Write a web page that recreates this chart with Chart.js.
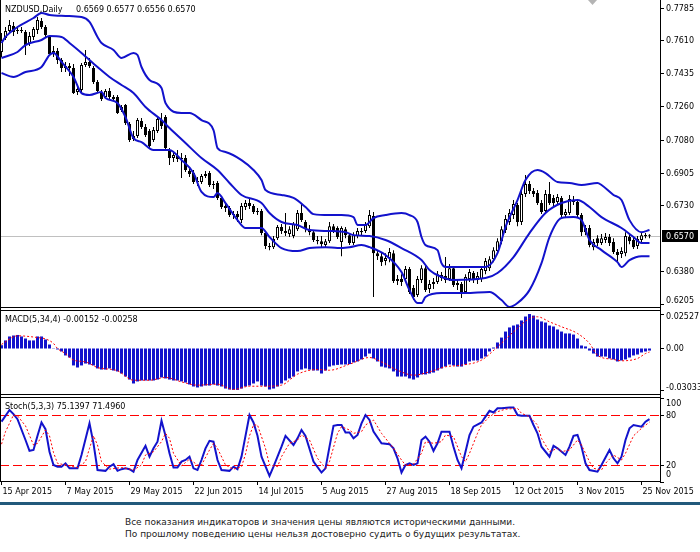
<!DOCTYPE html>
<html>
<head>
<meta charset="utf-8">
<script src="https://cdn.jsdelivr.net/npm/chart.js@4.4.1/dist/chart.umd.min.js"></script>
<style>
  body { margin: 0; background: #fff; }
  #wrap { position: relative; width: 700px; height: 552px; background: #fff; overflow: hidden; }
  canvas { position: absolute; left: 0; }
  #priceCanvas { top: 0; }
  #macdCanvas { top: 308px; }
  #stochCanvas { top: 395px; }
  #bottomLine { position: absolute; left: 0; top: 502px; width: 700px; height: 3px; background: #22597b; }
  #note { position: absolute; left: 125px; top: 516px; font-family: "DejaVu Sans", sans-serif; font-size: 9px; line-height: 12px; color: #222; white-space: nowrap; }
</style>
</head>
<body>
<div id="wrap">
  <canvas id="priceCanvas" width="700" height="308"></canvas>
  <canvas id="macdCanvas" width="700" height="87"></canvas>
  <canvas id="stochCanvas" width="700" height="107"></canvas>
  <div id="bottomLine"></div>
  <div id="note">Все показания индикаторов и значения цены являются историческими данными.<br>По прошлому поведению цены нельзя достоверно судить о будущих результатах.</div>
</div>
<script>
// x axis dates, one label every 16 daily bars
const tickBars = [0, 16, 32, 48, 64, 80, 96, 112, 128, 144, 160];
const tickDates = ['15 Apr 2015', '7 May 2015', '29 May 2015', '22 Jun 2015', '14 Jul 2015', '5 Aug 2015',
    '27 Aug 2015', '18 Sep 2015', '12 Oct 2015', '3 Nov 2015', '25 Nov 2015'];

// NZDUSD daily candles
const opens = [
    0.7548, 0.7622, 0.7660, 0.7686, 0.7660, 0.7665, 0.7654, 0.7590, 0.7628, 0.7665,
    0.7713, 0.7681, 0.7633, 0.7537, 0.7553, 0.7505, 0.7463, 0.7473, 0.7463, 0.7335,
    0.7345, 0.7479, 0.7495, 0.7463, 0.7388, 0.7335, 0.7308, 0.7340, 0.7308, 0.7308,
    0.7239, 0.7265, 0.7164, 0.7084, 0.7100, 0.7180, 0.7148, 0.7127, 0.7079, 0.7127,
    0.7185, 0.7201, 0.7020, 0.6983, 0.6994, 0.6978, 0.6983, 0.6914, 0.6903, 0.6855,
    0.6855, 0.6887, 0.6903, 0.6839, 0.6850, 0.6770, 0.6727, 0.6716, 0.6679, 0.6684,
    0.6652, 0.6722, 0.6743, 0.6727, 0.6695, 0.6700, 0.6583, 0.6514, 0.6508, 0.6556,
    0.6615, 0.6594, 0.6578, 0.6567, 0.6604, 0.6690, 0.6642, 0.6604, 0.6588, 0.6546,
    0.6540, 0.6519, 0.6540, 0.6620, 0.6610, 0.6535, 0.6604, 0.6572, 0.6530, 0.6567,
    0.6594, 0.6594, 0.6620, 0.6674, 0.6476, 0.6460, 0.6434, 0.6450, 0.6476, 0.6327,
    0.6338, 0.6338, 0.6391, 0.6290, 0.6253, 0.6333, 0.6396, 0.6285, 0.6311, 0.6322,
    0.6359, 0.6354, 0.6338, 0.6396, 0.6306, 0.6311, 0.6269, 0.6338, 0.6370, 0.6333,
    0.6338, 0.6381, 0.6396, 0.6444, 0.6487, 0.6540, 0.6599, 0.6642, 0.6679, 0.6732,
    0.6642, 0.6791, 0.6844, 0.6807, 0.6796, 0.6743, 0.6700, 0.6791, 0.6770, 0.6748,
    0.6770, 0.6679, 0.6690, 0.6759, 0.6748, 0.6679, 0.6588, 0.6610, 0.6508, 0.6556,
    0.6530, 0.6546, 0.6562, 0.6535, 0.6482, 0.6471, 0.6476, 0.6562, 0.6546, 0.6514,
    0.6546, 0.6572, 0.6569
];
const highs = [
    0.7649, 0.7681, 0.7718, 0.7708, 0.7686, 0.7681, 0.7665, 0.7654, 0.7681, 0.7734,
    0.7729, 0.7692, 0.7638, 0.7580, 0.7569, 0.7516, 0.7495, 0.7489, 0.7484, 0.7367,
    0.7489, 0.7559, 0.7516, 0.7473, 0.7399, 0.7345, 0.7351, 0.7356, 0.7319, 0.7319,
    0.7265, 0.7271, 0.7175, 0.7127, 0.7196, 0.7196, 0.7164, 0.7137, 0.7148, 0.7201,
    0.7223, 0.7212, 0.7036, 0.7015, 0.7026, 0.7010, 0.6999, 0.6935, 0.6919, 0.6882,
    0.6898, 0.6914, 0.6914, 0.6860, 0.6860, 0.6780, 0.6743, 0.6727, 0.6700, 0.6700,
    0.6743, 0.6759, 0.6770, 0.6738, 0.6716, 0.6711, 0.6594, 0.6530, 0.6567, 0.6626,
    0.6631, 0.6690, 0.6620, 0.6642, 0.6706, 0.6743, 0.6652, 0.6626, 0.6599, 0.6567,
    0.6567, 0.6551, 0.6642, 0.6631, 0.6620, 0.6620, 0.6615, 0.6583, 0.6588, 0.6610,
    0.6610, 0.6642, 0.6706, 0.6695, 0.6492, 0.6482, 0.6476, 0.6503, 0.6492, 0.6359,
    0.6364, 0.6407, 0.6402, 0.6306, 0.6354, 0.6412, 0.6407, 0.6333, 0.6343, 0.6381,
    0.6375, 0.6455, 0.6418, 0.6407, 0.6333, 0.6322, 0.6364, 0.6391, 0.6381, 0.6375,
    0.6407, 0.6450, 0.6460, 0.6508, 0.6556, 0.6620, 0.6679, 0.6711, 0.6759, 0.6743,
    0.6812, 0.6892, 0.6860, 0.6823, 0.6812, 0.6759, 0.6812, 0.6855, 0.6786, 0.6791,
    0.6780, 0.6711, 0.6786, 0.6780, 0.6764, 0.6690, 0.6626, 0.6626, 0.6551, 0.6572,
    0.6578, 0.6583, 0.6578, 0.6556, 0.6498, 0.6508, 0.6588, 0.6578, 0.6567, 0.6567,
    0.6588, 0.6583, 0.6577
];
const lows = [
    0.7521, 0.7612, 0.7649, 0.7633, 0.7644, 0.7649, 0.7532, 0.7580, 0.7612, 0.7644,
    0.7670, 0.7622, 0.7527, 0.7521, 0.7484, 0.7441, 0.7441, 0.7420, 0.7324, 0.7319,
    0.7335, 0.7468, 0.7463, 0.7377, 0.7329, 0.7287, 0.7297, 0.7297, 0.7287, 0.7217,
    0.7228, 0.7159, 0.7068, 0.7073, 0.7089, 0.7137, 0.7095, 0.7036, 0.7068, 0.7116,
    0.7137, 0.7026, 0.6946, 0.6962, 0.6962, 0.6876, 0.6908, 0.6882, 0.6844, 0.6834,
    0.6844, 0.6876, 0.6828, 0.6818, 0.6759, 0.6711, 0.6695, 0.6668, 0.6658, 0.6642,
    0.6636, 0.6706, 0.6711, 0.6684, 0.6679, 0.6572, 0.6498, 0.6492, 0.6498, 0.6546,
    0.6578, 0.6567, 0.6562, 0.6556, 0.6594, 0.6642, 0.6588, 0.6572, 0.6535, 0.6524,
    0.6508, 0.6503, 0.6530, 0.6583, 0.6551, 0.6460, 0.6556, 0.6519, 0.6519, 0.6556,
    0.6572, 0.6583, 0.6610, 0.6242, 0.6439, 0.6407, 0.6412, 0.6428, 0.6317, 0.6306,
    0.6301, 0.6327, 0.6258, 0.6226, 0.6242, 0.6317, 0.6269, 0.6263, 0.6285, 0.6311,
    0.6327, 0.6317, 0.6327, 0.6295, 0.6279, 0.6237, 0.6258, 0.6322, 0.6317, 0.6311,
    0.6322, 0.6364, 0.6381, 0.6428, 0.6471, 0.6524, 0.6583, 0.6626, 0.6658, 0.6620,
    0.6626, 0.6775, 0.6791, 0.6775, 0.6732, 0.6684, 0.6690, 0.6732, 0.6727, 0.6732,
    0.6668, 0.6663, 0.6679, 0.6732, 0.6668, 0.6567, 0.6572, 0.6508, 0.6492, 0.6514,
    0.6519, 0.6530, 0.6514, 0.6471, 0.6423, 0.6450, 0.6460, 0.6524, 0.6498, 0.6498,
    0.6535, 0.6556, 0.6556
];
const closes = [
    0.7612, 0.7660, 0.7692, 0.7654, 0.7665, 0.7660, 0.7585, 0.7633, 0.7670, 0.7718,
    0.7681, 0.7638, 0.7537, 0.7553, 0.7505, 0.7463, 0.7473, 0.7463, 0.7329, 0.7351,
    0.7479, 0.7495, 0.7473, 0.7388, 0.7340, 0.7297, 0.7340, 0.7308, 0.7297, 0.7223,
    0.7255, 0.7169, 0.7079, 0.7100, 0.7185, 0.7148, 0.7105, 0.7047, 0.7132, 0.7191,
    0.7153, 0.7036, 0.6983, 0.6999, 0.6978, 0.6983, 0.6919, 0.6898, 0.6855, 0.6860,
    0.6887, 0.6898, 0.6839, 0.6844, 0.6770, 0.6722, 0.6716, 0.6679, 0.6684, 0.6668,
    0.6727, 0.6743, 0.6727, 0.6695, 0.6700, 0.6583, 0.6514, 0.6508, 0.6551, 0.6615,
    0.6594, 0.6583, 0.6604, 0.6631, 0.6690, 0.6652, 0.6604, 0.6588, 0.6546, 0.6540,
    0.6524, 0.6540, 0.6620, 0.6594, 0.6562, 0.6610, 0.6572, 0.6530, 0.6572, 0.6594,
    0.6588, 0.6626, 0.6679, 0.6476, 0.6460, 0.6428, 0.6450, 0.6482, 0.6327, 0.6338,
    0.6322, 0.6391, 0.6269, 0.6242, 0.6338, 0.6396, 0.6279, 0.6311, 0.6322, 0.6364,
    0.6343, 0.6333, 0.6396, 0.6306, 0.6317, 0.6263, 0.6349, 0.6375, 0.6333, 0.6354,
    0.6391, 0.6434, 0.6444, 0.6492, 0.6540, 0.6604, 0.6658, 0.6690, 0.6738, 0.6642,
    0.6791, 0.6844, 0.6807, 0.6791, 0.6743, 0.6695, 0.6791, 0.6743, 0.6743, 0.6775,
    0.6679, 0.6695, 0.6764, 0.6748, 0.6679, 0.6588, 0.6610, 0.6519, 0.6535, 0.6530,
    0.6556, 0.6562, 0.6530, 0.6482, 0.6466, 0.6487, 0.6567, 0.6540, 0.6508, 0.6551,
    0.6572, 0.6567, 0.6570
];

// Bollinger bands at the bars where they bend
const upperIdx = [0, 1, 4, 8, 10, 12, 16, 20, 22, 24, 25, 28, 30, 33, 34, 35, 37, 40, 41, 45,
    47, 50, 53, 54, 56, 60, 63, 65, 66, 70, 73, 76, 78, 82, 85, 88, 89, 91, 93, 96,
    100, 102, 104, 105, 106, 109, 110, 111, 115, 121, 124, 126, 129, 131, 134, 136, 139, 142, 145, 149,
    150, 153, 155, 157, 160, 162];
const upperVal = [0.7596, 0.7628, 0.7681, 0.7729, 0.7756, 0.7745, 0.7740, 0.7734, 0.7708, 0.7628,
    0.7596, 0.7559, 0.7516, 0.7543, 0.7532, 0.7468, 0.7399, 0.7356, 0.7276, 0.7223,
    0.7223, 0.7185, 0.7132, 0.7036, 0.7015, 0.6972, 0.6919, 0.6866, 0.6812, 0.6786,
    0.6770, 0.6722, 0.6684, 0.6679, 0.6679, 0.6668, 0.6626, 0.6626, 0.6663, 0.6679,
    0.6690, 0.6679, 0.6642, 0.6562, 0.6519, 0.6492, 0.6423, 0.6402, 0.6402, 0.6402,
    0.6476, 0.6615, 0.6759, 0.6866, 0.6919, 0.6903, 0.6855, 0.6850, 0.6839, 0.6850,
    0.6839, 0.6786, 0.6759, 0.6652, 0.6588, 0.6599];
const middleIdx = [0, 4, 6, 10, 12, 15, 17, 20, 24, 27, 30, 33, 36, 40, 42, 46, 50, 54, 57, 60,
    65, 67, 70, 74, 77, 82, 86, 88, 92, 96, 100, 105, 107, 110, 113, 121, 124, 128, 132, 136,
    140, 144, 147, 150, 155, 158, 160, 162];
const middleVal = [0.7516, 0.7548, 0.7585, 0.7612, 0.7633, 0.7628, 0.7596, 0.7543, 0.7468, 0.7415,
    0.7372, 0.7329, 0.7255, 0.7185, 0.7143, 0.7063, 0.6983, 0.6919, 0.6850, 0.6786,
    0.6743, 0.6690, 0.6642, 0.6626, 0.6599, 0.6594, 0.6588, 0.6572, 0.6567, 0.6546,
    0.6503, 0.6439, 0.6386, 0.6349, 0.6333, 0.6343, 0.6370, 0.6455, 0.6583, 0.6690,
    0.6743, 0.6759, 0.6722, 0.6668, 0.6610, 0.6562, 0.6530, 0.6530];
const lowerIdx = [0, 3, 6, 10, 12, 13, 15, 18, 20, 22, 25, 26, 29, 31, 33, 35, 38, 42, 45, 48,
    50, 53, 54, 56, 59, 61, 65, 67, 70, 74, 77, 81, 84, 87, 90, 92, 96, 100, 102, 104,
    105, 106, 110, 116, 122, 125, 127, 129, 132, 135, 137, 140, 143, 145, 147, 150, 154, 155, 157, 160,
    162];
const lowerVal = [0.7436, 0.7415, 0.7441, 0.7468, 0.7532, 0.7543, 0.7495, 0.7415, 0.7329, 0.7319,
    0.7335, 0.7303, 0.7276, 0.7201, 0.7089, 0.7068, 0.7026, 0.7026, 0.6972, 0.6903,
    0.6802, 0.6775, 0.6796, 0.6743, 0.6652, 0.6610, 0.6610, 0.6562, 0.6503, 0.6487,
    0.6503, 0.6508, 0.6503, 0.6508, 0.6519, 0.6508, 0.6466, 0.6375, 0.6279, 0.6210,
    0.6210, 0.6242, 0.6263, 0.6263, 0.6269, 0.6226, 0.6189, 0.6210, 0.6279, 0.6423,
    0.6562, 0.6663, 0.6668, 0.6652, 0.6546, 0.6492, 0.6428, 0.6402, 0.6439, 0.6460,
    0.6460];

// MACD(5,34,4) histogram, one value per bar
const macdHist = [
    0.0024, 0.0059, 0.0088, 0.0095, 0.0099, 0.0088, 0.0073, 0.0059, 0.0059, 0.0088,
    0.0088, 0.0066, 0.0029, 0.0002, -0.0007, -0.0022, -0.0051, -0.0066, -0.0124, -0.0139,
    -0.0124, -0.0110, -0.0117, -0.0124, -0.0146, -0.0154, -0.0154, -0.0146, -0.0161, -0.0168,
    -0.0183, -0.0205, -0.0227, -0.0256, -0.0241, -0.0234, -0.0234, -0.0234, -0.0234, -0.0227,
    -0.0212, -0.0219, -0.0227, -0.0234, -0.0234, -0.0241, -0.0249, -0.0263, -0.0278, -0.0285,
    -0.0278, -0.0271, -0.0271, -0.0263, -0.0271, -0.0278, -0.0293, -0.0300, -0.0303, -0.0303,
    -0.0293, -0.0278, -0.0271, -0.0256, -0.0241, -0.0271, -0.0278, -0.0300, -0.0293, -0.0278,
    -0.0256, -0.0234, -0.0219, -0.0205, -0.0168, -0.0154, -0.0146, -0.0154, -0.0161, -0.0161,
    -0.0183, -0.0161, -0.0132, -0.0124, -0.0120, -0.0117, -0.0117, -0.0114, -0.0102, -0.0095,
    -0.0080, -0.0059, -0.0037, -0.0073, -0.0095, -0.0132, -0.0139, -0.0146, -0.0168, -0.0205,
    -0.0205, -0.0205, -0.0219, -0.0227, -0.0212, -0.0190, -0.0190, -0.0183, -0.0176, -0.0161,
    -0.0146, -0.0132, -0.0117, -0.0124, -0.0132, -0.0132, -0.0117, -0.0095, -0.0088, -0.0088,
    -0.0073, -0.0059, -0.0022, 0.0007, 0.0044, 0.0080, 0.0124, 0.0154, 0.0168, 0.0176,
    0.0205, 0.0234, 0.0252, 0.0241, 0.0212, 0.0198, 0.0190, 0.0168, 0.0161, 0.0139,
    0.0124, 0.0110, 0.0110, 0.0102, 0.0073, 0.0022, 0.0015, -0.0015, -0.0037, -0.0059,
    -0.0059, -0.0059, -0.0073, -0.0080, -0.0095, -0.0088, -0.0080, -0.0066, -0.0051, -0.0044,
    -0.0029, -0.0022, -0.00152
];
// MACD signal line
const macdSigIdx = [0, 4, 9, 11, 13, 14, 16, 18, 21, 24, 29, 33, 37, 41, 45, 49, 54, 58, 62, 66,
    70, 74, 79, 82, 87, 92, 95, 99, 103, 107, 111, 115, 120, 124, 128, 132, 134, 137, 140, 144,
    147, 149, 153, 155, 159, 161, 162];
const macdSigVal = [0.0030, 0.0093, 0.0080, 0.0070, 0.0037, 0.0000, -0.0037, -0.0085, -0.0098, -0.0139,
    -0.0163, -0.0232, -0.0232, -0.0212, -0.0244, -0.0268, -0.0261, -0.0300, -0.0276, -0.0276,
    -0.0268, -0.0188, -0.0154, -0.0159, -0.0115, -0.0066, -0.0098, -0.0159, -0.0195, -0.0171,
    -0.0134, -0.0122, -0.0085, 0.0012, 0.0122, 0.0219, 0.0232, 0.0195, 0.0159, 0.0110,
    0.0037, -0.0049, -0.0080, -0.0090, -0.0073, -0.0037, -0.00258];

// Stochastic(5,3,3)
const stochIdx = [0, 2, 3, 4, 6, 7, 8, 9, 10, 11, 12, 13, 14, 15, 16, 17, 19, 20, 22, 23,
    24, 26, 27, 28, 29, 30, 31, 32, 33, 34, 36, 37, 38, 39, 40, 41, 42, 43, 44, 45,
    46, 47, 48, 49, 50, 51, 52, 53, 54, 55, 57, 58, 59, 60, 61, 62, 63, 64, 65, 67,
    68, 70, 71, 73, 74, 75, 76, 78, 80, 81, 82, 83, 84, 85, 86, 87, 88, 89, 90, 91,
    92, 93, 95, 97, 98, 99, 100, 101, 102, 103, 104, 105, 106, 107, 108, 109, 110, 112, 113, 114,
    115, 116, 117, 118, 120, 121, 122, 123, 124, 125, 127, 128, 129, 130, 132, 133, 134, 135, 137, 138,
    139, 141, 142, 143, 144, 145, 146, 147, 149, 150, 152, 153, 154, 155, 156, 157, 158, 160, 161, 162];
const stochMain = [72, 86, 81, 75, 50, 37, 38, 55, 71, 63, 36, 20, 18, 18, 22, 16, 16, 32, 70, 46,
    14, 13, 18, 21, 13, 15, 16, 15, 12, 26, 43, 30, 40, 48, 73, 55, 34, 17, 17, 24,
    26, 30, 16, 14, 26, 40, 49, 48, 26, 14, 13, 18, 15, 30, 55, 80, 71, 55, 30, 7,
    18, 42, 55, 44, 52, 62, 55, 24, 11, 16, 42, 67, 68, 68, 59, 59, 52, 56, 70, 80,
    74, 60, 46, 45, 40, 28, 11, 20, 22, 20, 22, 50, 54, 48, 37, 46, 60, 60, 42, 26,
    16, 36, 56, 66, 71, 78, 85, 83, 88, 88, 89, 89, 80, 79, 79, 68, 58, 42, 30, 43,
    40, 32, 42, 55, 56, 42, 22, 14, 12, 20, 38, 28, 22, 30, 50, 64, 68, 66, 72, 75.1397];
const stochSigIdx = [0, 1, 3, 4, 6, 8, 9, 11, 12, 13, 14, 17, 19, 21, 22, 23, 24, 25, 27, 30,
    33, 35, 36, 38, 40, 41, 42, 43, 45, 46, 47, 49, 50, 52, 53, 54, 56, 58, 60, 61,
    62, 63, 64, 66, 67, 69, 70, 72, 74, 75, 77, 79, 81, 82, 84, 85, 87, 88, 90, 91,
    93, 95, 97, 98, 100, 101, 103, 105, 106, 108, 110, 111, 113, 115, 116, 117, 119, 120, 122, 124,
    126, 129, 130, 132, 134, 135, 137, 139, 140, 142, 144, 145, 147, 148, 150, 151, 153, 155, 156, 158,
    160, 162];
const stochSig = [45, 60, 80, 79, 67, 44, 46, 62, 55, 35, 22, 19, 17, 24, 40, 55, 44, 24, 15, 17,
    14, 20, 32, 36, 48, 58, 52, 34, 19, 23, 27, 20, 20, 38, 46, 40, 20, 15, 18, 33,
    55, 68, 68, 40, 20, 18, 30, 46, 50, 56, 50, 28, 16, 24, 58, 66, 62, 58, 60, 68,
    74, 58, 46, 40, 26, 20, 21, 34, 48, 46, 48, 56, 54, 30, 24, 34, 58, 68, 78, 84,
    87, 88, 82, 78, 68, 52, 36, 40, 36, 38, 50, 44, 24, 16, 14, 22, 32, 26, 34, 55,
    64, 71.496];
const stochLevels = [80, 20];

// right axis labels of each panel
const priceTicks = [0.7785, 0.7610, 0.7435, 0.7260, 0.7080, 0.6905, 0.6730, 0.6380, 0.6205];
const macdTicks = [0.02527, 0, -0.03033];
const macdTickText = ['0.02527', '0.00', '-0.03033'];
const stochTicks = [100, 80, 20, 0];

const X_MIN = -0.375, X_MAX = 164.625;
const FONT = '8px "DejaVu Sans"';
const BLUE = '#1212cc';
const RED = '#ff0000';
const last = closes.length - 1;

const pts = (xs, ys) => xs.map((x, k) => ({ x: x, y: ys[k] }));

function baseOptions(yMin, yMax, padTop, padBottom) {
    return {
        responsive: false,
        animation: false,
        events: [],
        layout: { padding: { left: 0, right: 40, top: padTop, bottom: padBottom } },
        plugins: { legend: { display: false }, tooltip: { enabled: false } },
        scales: {
            x: { type: 'linear', display: false, min: X_MIN, max: X_MAX, offset: false },
            y: { type: 'linear', display: false, min: yMin, max: yMax }
        }
    };
}

function panelFrame(drawTop) {
    return {
        id: 'panelFrame',
        afterDraw(chart) {
            const ctx = chart.ctx, a = chart.chartArea;
            ctx.save();
            ctx.strokeStyle = '#000';
            ctx.lineWidth = 1;
            ctx.beginPath();
            ctx.moveTo(0.5, 0); ctx.lineTo(0.5, a.bottom);
            ctx.moveTo(a.right + 0.5, 0); ctx.lineTo(a.right + 0.5, a.bottom);
            if (drawTop) { ctx.moveTo(0, a.top + 0.5); ctx.lineTo(a.right, a.top + 0.5); }
            ctx.moveTo(0, a.bottom - 0.5); ctx.lineTo(a.right, a.bottom - 0.5);
            ctx.stroke();
            ctx.restore();
        }
    };
}

function rightLabels(values, texts) {
    return {
        id: 'rightLabels',
        afterDraw(chart) {
            const ctx = chart.ctx, a = chart.chartArea, y = chart.scales.y;
            ctx.save();
            ctx.font = FONT;
            ctx.fillStyle = '#000';
            ctx.strokeStyle = '#000';
            ctx.textBaseline = 'middle';
            values.forEach((v, k) => {
                const py = Math.round(y.getPixelForValue(v)) + 0.5;
                ctx.beginPath(); ctx.moveTo(a.right, py); ctx.lineTo(a.right + 4, py); ctx.stroke();
                const ty = Math.min(Math.max(py, a.top + 7), a.bottom - 7);
                ctx.fillText(texts[k], a.right + 6, ty);
            });
            ctx.restore();
        }
    };
}

function panelTitle(parts) {
    return {
        id: 'panelTitle',
        afterDraw(chart) {
            const ctx = chart.ctx, a = chart.chartArea;
            ctx.save();
            ctx.font = FONT;
            ctx.fillStyle = '#000';
            ctx.textBaseline = 'middle';
            parts.forEach(p => ctx.fillText(p[0], p[1], a.top + 9.5));
            ctx.restore();
        }
    };
}

// gray line at the last close plus the black price box on the axis
const lastPrice = {
    id: 'lastPrice',
    beforeDatasetsDraw(chart) {
        const ctx = chart.ctx, a = chart.chartArea;
        const py = Math.round(chart.scales.y.getPixelForValue(closes[last])) + 0.5;
        ctx.save();
        ctx.strokeStyle = '#c0c0c0';
        ctx.beginPath(); ctx.moveTo(a.left, py); ctx.lineTo(a.right, py); ctx.stroke();
        ctx.restore();
    },
    afterDraw(chart) {
        const ctx = chart.ctx, a = chart.chartArea;
        const py = Math.round(chart.scales.y.getPixelForValue(closes[last]));
        ctx.save();
        ctx.fillStyle = '#000';
        ctx.fillRect(a.right + 2, py - 6, 36, 12);
        ctx.fillStyle = '#fff';
        ctx.font = FONT;
        ctx.textBaseline = 'middle';
        ctx.fillText(closes[last].toFixed(4), a.right + 6, py + 0.5);
        // chart shift marker
        ctx.fillStyle = '#b4b4b4';
        ctx.beginPath(); ctx.moveTo(588, 0); ctx.lineTo(597, 0); ctx.lineTo(592.5, 5); ctx.closePath(); ctx.fill();
        ctx.restore();
    }
};

const stochLevelLines = {
    id: 'stochLevelLines',
    beforeDatasetsDraw(chart) {
        const ctx = chart.ctx, a = chart.chartArea;
        ctx.save();
        ctx.strokeStyle = RED;
        ctx.lineWidth = 1;
        ctx.setLineDash([9, 4]);
        stochLevels.forEach(v => {
            const py = Math.round(chart.scales.y.getPixelForValue(v)) + 0.5;
            ctx.beginPath(); ctx.moveTo(a.left, py); ctx.lineTo(a.right, py); ctx.stroke();
        });
        ctx.restore();
    }
};

const dateAxis = {
    id: 'dateAxis',
    afterDraw(chart) {
        const ctx = chart.ctx, a = chart.chartArea, x = chart.scales.x;
        ctx.save();
        ctx.font = FONT;
        ctx.fillStyle = '#000';
        ctx.strokeStyle = '#000';
        ctx.textBaseline = 'middle';
        tickBars.forEach((b, k) => {
            const px = x.getPixelForValue(b);
            ctx.beginPath(); ctx.moveTo(px, a.bottom); ctx.lineTo(px, a.bottom + 3); ctx.stroke();
            ctx.fillText(tickDates[k], px + 1, a.bottom + 10);
        });
        ctx.restore();
    }
};

// price panel
new Chart(document.getElementById('priceCanvas'), {
    type: 'bar',
    data: {
        datasets: [
            { type: 'line', data: pts(upperIdx, upperVal), borderColor: BLUE, borderWidth: 2, pointRadius: 0, cubicInterpolationMode: 'monotone', order: 0 },
            { type: 'line', data: pts(middleIdx, middleVal), borderColor: BLUE, borderWidth: 2, pointRadius: 0, cubicInterpolationMode: 'monotone', order: 0 },
            { type: 'line', data: pts(lowerIdx, lowerVal), borderColor: BLUE, borderWidth: 2, pointRadius: 0, cubicInterpolationMode: 'monotone', order: 0 },
            {
                data: closes.map((c, i) => ({ x: i, y: [opens[i], c] })),
                backgroundColor: closes.map((c, i) => c >= opens[i] ? '#ffffff' : '#000000'),
                borderColor: '#000', borderWidth: 1, borderSkipped: false, inflateAmount: 0,
                barThickness: 3, minBarLength: 1, grouped: false, order: 1
            },
            {
                data: closes.map((c, i) => ({ x: i, y: [lows[i], highs[i]] })),
                backgroundColor: '#000', borderWidth: 0, inflateAmount: 0,
                barThickness: 1, grouped: false, order: 2
            }
        ]
    },
    options: baseOptions(0.61837, 0.7825, 0, 0),
    plugins: [lastPrice, panelFrame(false), rightLabels(priceTicks, priceTicks.map(v => v.toFixed(4))),
        panelTitle([['NZDUSD,Daily', 5], [[opens[last], highs[last], lows[last], closes[last]].map(v => v.toFixed(4)).join(' '), 76]])]
});

// MACD panel
new Chart(document.getElementById('macdCanvas'), {
    type: 'bar',
    data: {
        datasets: [
            { type: 'line', data: pts(macdSigIdx, macdSigVal), borderColor: RED, borderWidth: 1, borderDash: [2, 2], pointRadius: 0, cubicInterpolationMode: 'monotone', order: 0 },
            {
                data: macdHist.map((v, i) => ({ x: i, y: v })),
                backgroundColor: BLUE, borderWidth: 0, inflateAmount: 0,
                barThickness: 3, grouped: false, order: 1
            }
        ]
    },
    options: baseOptions(-0.03402, 0.02816, 2, 0),
    plugins: [panelFrame(true), rightLabels(macdTicks, macdTickText),
        panelTitle([['MACD(5,34,4) ' + macdHist[last].toFixed(5) + ' ' + macdSigVal[macdSigVal.length - 1].toFixed(5), 5]])]
});

// Stochastic panel
new Chart(document.getElementById('stochCanvas'), {
    type: 'line',
    data: {
        datasets: [
            { data: pts(stochSigIdx, stochSig), borderColor: RED, borderWidth: 1, borderDash: [2, 2], pointRadius: 0, order: 0 },
            { data: pts(stochIdx, stochMain), borderColor: BLUE, borderWidth: 2, pointRadius: 0, order: 1 }
        ]
    },
    options: baseOptions(-0.4, 101.6, 2, 20),
    plugins: [stochLevelLines, panelFrame(true), rightLabels(stochTicks, stochTicks.map(String)), dateAxis,
        panelTitle([['Stoch(5,3,3) ' + stochMain[stochMain.length - 1].toFixed(4) + ' ' + stochSig[stochSig.length - 1].toFixed(4), 5]])]
});
</script>
</body>
</html>
